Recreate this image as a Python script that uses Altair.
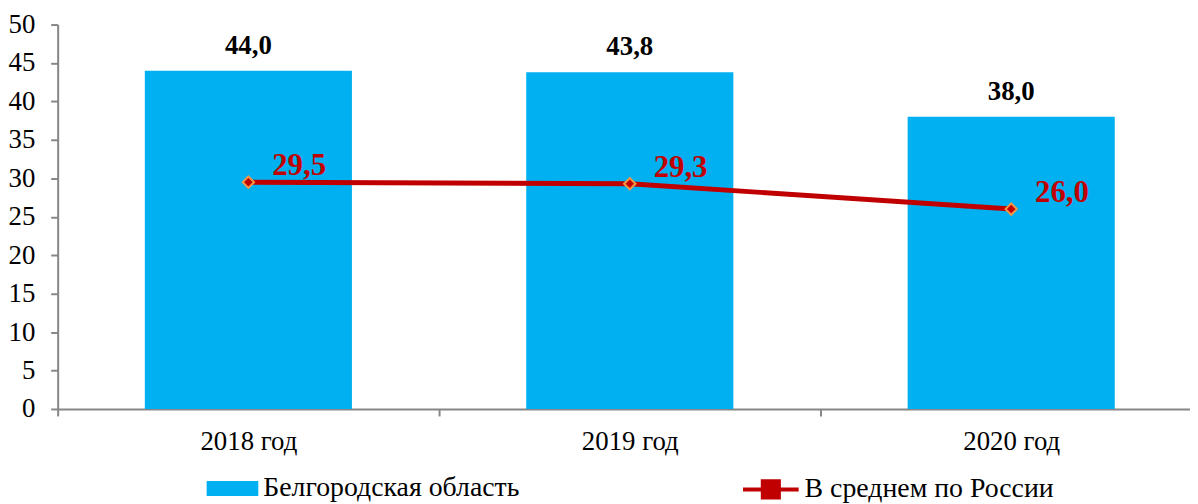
import altair as alt
import pandas as pd

years = ["2018 год", "2019 год", "2020 год"]
belgorod = [44.0, 43.8, 38.0]
russia = [29.5, 29.3, 26.0]
series_names = ["Белгородская область", "В среднем по России"]
y_ticks = [0, 5, 10, 15, 20, 25, 30, 35, 40, 45, 50]

def fmt(v):
    return f"{v:.1f}".replace(".", ",")

df = pd.DataFrame({
    "year": years,
    "bel": belgorod,
    "rus": russia,
    "bel_label": [fmt(v) for v in belgorod],
    "rus_label": [fmt(v) for v in russia],
    "bar_series": series_names[0],
    "line_series": series_names[1],
})

FONT = "Liberation Serif"
GRAY = "#868686"

x = alt.X(
    "year:N",
    sort=years,
    scale=alt.Scale(paddingInner=0, paddingOuter=0),
    axis=alt.Axis(
        title=None, labelAngle=0, labelPadding=13, tickBand="extent",
        labelOverlap=False,
    ),
)
y_scale = alt.Scale(domain=[0, 50], nice=False)
y_axis = alt.Axis(
    title=None, values=y_ticks, labelPadding=16,
    labelOverlap=False, labelBound=False, labelFlush=False,
)

def Y(field):
    return alt.Y(field, type="quantitative", scale=y_scale, axis=y_axis)

base = alt.Chart(df)

bars = base.mark_bar(width=alt.RelativeBandSize(0.543)).encode(
    x=x,
    y=Y("bel"),
    color=alt.Color(
        "bar_series:N",
        scale=alt.Scale(range=["#00B0F0"]),
        legend=alt.Legend(
            title=None, orient="none", legendX=150, legendY=441,
            symbolType="M-1,-0.29L1,-0.29L1,0.29L-1,0.29Z", symbolSize=2704,
            symbolStrokeWidth=0, labelOffset=5,
        ),
    ),
)

bar_text = base.mark_text(
    font=FONT, fontSize=27, fontWeight="bold", color="black",
    baseline="alphabetic", dy=-17,
).encode(x=x, y=Y("bel"), text="bel_label:N")

line = base.mark_line(strokeWidth=5).encode(
    x=x,
    y=Y("rus"),
    stroke=alt.Stroke(
        "line_series:N",
        scale=alt.Scale(range=["#C00000"]),
        legend=alt.Legend(
            title=None, orient="none", legendX=688, legendY=438,
            symbolType="M-1,0L1,0M-0.29,-0.29L0.29,-0.29L0.29,0.29L-0.29,0.29Z",
            symbolSize=3136, symbolStrokeWidth=4, symbolFillColor="#C00000",
            labelOffset=4,
        ),
    ),
)

points = base.mark_point(
    shape="diamond", filled=True, fill="#C00000", stroke="#F79646",
    strokeWidth=2, size=130, opacity=1,
).encode(x=x, y=Y("rus"))

line_text = base.mark_text(
    font=FONT, fontSize=31, fontWeight="bold", color="#C00000",
    align="left", baseline="alphabetic", dx=24, dy=-7,
).encode(x=x, y=Y("rus"), text="rus_label:N")

chart = (
    alt.layer(bars, bar_text, line, points, line_text)
    .resolve_scale(color="independent", stroke="independent")
    .properties(
        width=1152, height=387,
        padding={"left": 50, "top": 15, "right": -12, "bottom": 94},
        autosize=alt.AutoSizeParams(type="none"),
        background="white",
    )
    .configure_axis(
        labelFont=FONT, labelFontSize=27, labelColor="black",
        tickSize=7, tickColor=GRAY, tickWidth=2,
        domainColor=GRAY, domainWidth=2, grid=False,
    )
    .configure_legend(
        labelFont=FONT, labelFontSize=28, labelColor="black", labelLimit=400,
    )
    .configure_view(stroke=None)
)

chart.save("out.html", embed_options={"renderer": "svg", "actions": False})
